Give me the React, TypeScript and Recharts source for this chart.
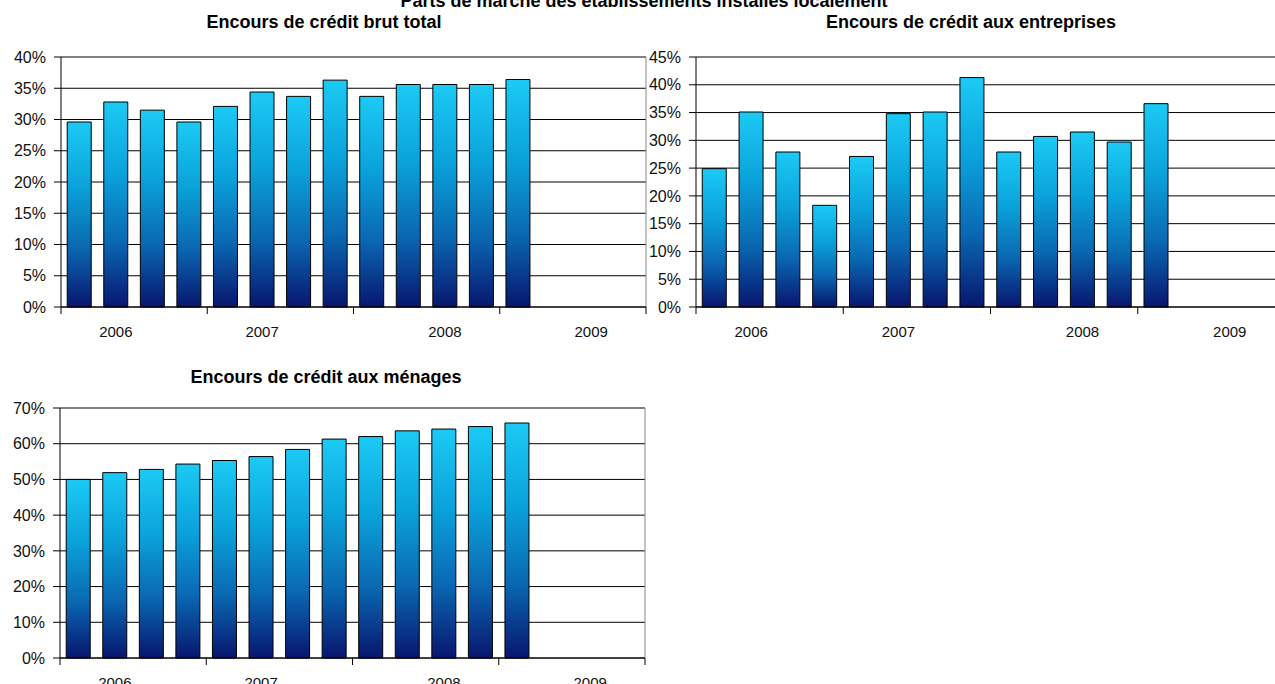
import { BarChart, Bar, XAxis, YAxis, CartesianGrid } from "recharts";

// trimestres 2006 -> 2009 (16 positions, 13 renseignées)
const QUARTERS = [
    "T1 2006", "T2 2006", "T3 2006", "T4 2006",
    "T1 2007", "T2 2007", "T3 2007", "T4 2007",
    "T1 2008", "T2 2008", "T3 2008", "T4 2008",
    "T1 2009", "T2 2009", "T3 2009", "T4 2009",
];
const YEAR_LABELS = ["2006", "2007", "2008", "2009"];
const YEAR_LABEL_SLOTS = [1, 5, 10, 14];

const CREDIT_TOTAL = [29.6, 32.8, 31.5, 29.6, 32.1, 34.4, 33.7, 36.3, 33.7, 35.6, 35.6, 35.6, 36.4];
const CREDIT_ENTREPRISES = [24.9, 35.1, 27.9, 18.3, 27.1, 34.8, 35.1, 41.3, 27.9, 30.7, 31.5, 29.7, 36.6];
const CREDIT_MENAGES = [50.0, 51.9, 52.8, 54.3, 55.3, 56.4, 58.4, 61.3, 62.0, 63.6, 64.1, 64.8, 65.8];

const TICKS_TOTAL = [0, 5, 10, 15, 20, 25, 30, 35, 40];
const TICKS_ENTREPRISES = [0, 5, 10, 15, 20, 25, 30, 35, 40, 45];
const TICKS_MENAGES = [0, 10, 20, 30, 40, 50, 60, 70];

const FONT = "'Liberation Sans', Arial, sans-serif";

interface PanelProps {
    id: string;
    values: number[];
    ticks: number[];
    left: number;
    top: number;
    axisWidth: number;
    plotWidth: number;
}

function Panel({ id, values, ticks, left, top, axisWidth, plotWidth }: PanelProps) {
    const data = QUARTERS.map((q, i) => ({ q, v: i < values.length ? values[i] : null }));
    const slot = plotWidth / QUARTERS.length;
    const width = axisWidth + plotWidth + 4;
    const height = 10 + 250 + 40;

    const renderTick = (props: any) => {
        const { x, y, index } = props;
        const labelPos = YEAR_LABEL_SLOTS.indexOf(index);
        return (
            <g>
                {index % 4 === 0 && (
                    <line x1={x - slot / 2} x2={x - slot / 2} y1={y} y2={y + 7} stroke="#000" />
                )}
                {index === QUARTERS.length - 1 && (
                    <line x1={x + slot / 2} x2={x + slot / 2} y1={y} y2={y + 7} stroke="#000" />
                )}
                {labelPos >= 0 && (
                    <text x={x} y={y + 30} textAnchor="middle" fontSize={15} fill="#111" fontFamily={FONT}>
                        {YEAR_LABELS[labelPos]}
                    </text>
                )}
            </g>
        );
    };

    return (
        <div style={{ position: "absolute", left, top }}>
            <BarChart
                width={width}
                height={height}
                data={data}
                margin={{ top: 10, right: 4, bottom: 0, left: 0 }}
                barCategoryGap="17%"
            >
                <defs>
                    <linearGradient id={id} x1="0" y1="0" x2="0" y2="1">
                        <stop offset="0%" stopColor="#1ccaf5" />
                        <stop offset="35%" stopColor="#0aa2da" />
                        <stop offset="68%" stopColor="#0a68b2" />
                        <stop offset="100%" stopColor="#08166e" />
                    </linearGradient>
                </defs>
                <CartesianGrid vertical={false} stroke="#000" />
                <CartesianGrid
                    horizontal={false}
                    stroke="#888"
                    verticalCoordinatesGenerator={({ offset }: any) => [offset.left + offset.width]}
                />
                <XAxis
                    dataKey="q"
                    interval={0}
                    height={40}
                    tickSize={0}
                    tickMargin={0}
                    tickLine={false}
                    axisLine={{ stroke: "#000" }}
                    tick={renderTick}
                />
                <YAxis
                    width={axisWidth}
                    domain={[0, ticks[ticks.length - 1]]}
                    ticks={ticks}
                    interval={0}
                    tickSize={7}
                    tickMargin={8}
                    axisLine={{ stroke: "#000" }}
                    tickLine={{ stroke: "#000" }}
                    tick={{ fontSize: 16, fill: "#111", fontFamily: FONT }}
                    tickFormatter={(v: number) => `${v}%`}
                />
                <Bar dataKey="v" fill={`url(#${id})`} stroke="#000" strokeWidth={1} isAnimationActive={false} />
            </BarChart>
        </div>
    );
}

const titleStyle = (left: number, top: number, width: number): React.CSSProperties => ({
    position: "absolute",
    left,
    top,
    width,
    textAlign: "center",
    fontFamily: FONT,
    fontWeight: "bold",
    fontSize: 18,
    lineHeight: "18px",
    color: "#000",
    whiteSpace: "nowrap",
});

export default function App() {
    return (
        <div
            style={{
                position: "absolute",
                left: 0,
                top: 0,
                width: 1275,
                height: 684,
                overflow: "hidden",
                background: "#fff",
            }}
        >
            <div style={titleStyle(344, -8, 600)}>Parts de marché des établissements installés localement</div>
            <div style={titleStyle(124, 13, 400)}>Encours de crédit brut total</div>
            <div style={titleStyle(771, 13, 400)}>Encours de crédit aux entreprises</div>
            <div style={titleStyle(126, 368, 400)}>Encours de crédit aux ménages</div>

            <Panel id="gTotal" values={CREDIT_TOTAL} ticks={TICKS_TOTAL} left={0} top={47} axisWidth={61} plotWidth={585} />
            <Panel
                id="gEntreprises"
                values={CREDIT_ENTREPRISES}
                ticks={TICKS_ENTREPRISES}
                left={635}
                top={47}
                axisWidth={61}
                plotWidth={589}
            />
            <Panel id="gMenages" values={CREDIT_MENAGES} ticks={TICKS_MENAGES} left={0} top={398} axisWidth={60} plotWidth={585} />
        </div>
    );
}
